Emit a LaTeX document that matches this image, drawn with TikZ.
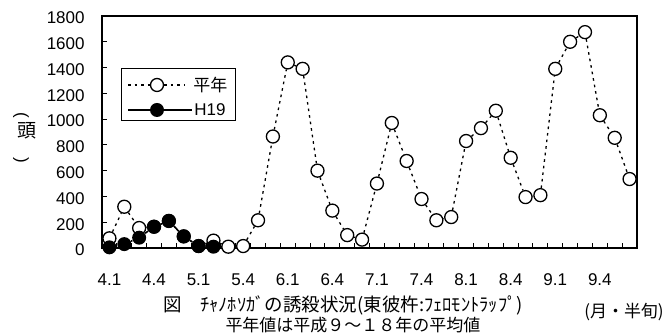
\documentclass[tikz,border=0pt]{standalone}
\usepackage{fontspec}
\setmainfont{Liberation Sans}
\newfontfamily\jafont{Noto Sans CJK JP}
\usetikzlibrary{positioning}

\tikzset{
  frameline/.style={line width=0.8pt},
  avgline/.style={line width=0.65pt, dash pattern=on 1.3pt off 2pt},
  hline/.style={line width=0.8pt},
  avgmark/.style={circle, draw, line width=0.65pt, fill=white, minimum size=6.5pt, inner sep=0pt},
  hmark/.style={circle, fill=black, minimum size=7pt, inner sep=0pt},
  ticklabel/.style={font=\fontsize{8.5}{10}\selectfont, inner sep=0pt},
  jalabel/.style={font=\jafont\fontsize{8.5}{10}\selectfont, inner sep=0pt},
}

\begin{document}
\begin{tikzpicture}[x=0.5pt, y=0.5pt]
  \useasboundingbox[fill=white] (0,0) rectangle (671,335);

  \begin{scope}[shift={(102,87)}, x=7.4306pt, y=0.064444pt]
    % ticks and frame
    \foreach \k in {1,...,35}
      \draw[line width=0.5pt] (\k,0) -- ++(0pt,2.5pt);
    \foreach \v in {200,400,...,1600}
      \draw[line width=0.5pt] (0,\v) -- ++(2.5pt,0pt);
    \draw[frameline] (0,0) rectangle (36,1800);

    \foreach \v in {0,200,...,1800}
      \node[ticklabel, anchor=east] (y\v) at ([xshift=-8.5pt, yshift=-1pt]0,\v) {\v};
    \foreach \t [count=\n from 0] in {4.1,4.4,5.1,5.4,6.1,6.4,7.1,7.4,8.1,8.4,9.1,9.4}
      \node[ticklabel] (x\n) at ([yshift=-15.75pt]3*\n+0.5,0) {\t};

    % heinen
    \foreach \v [count=\i from 0] in {75,320,155,165,210,90,15,57,10,15,215,865,1440,1390,600,290,100,65,500,970,675,380,215,240,830,930,1065,700,395,410,1390,1600,1675,1030,855,535}
      \node[avgmark] (a\i) at (\i+0.5,\v) {};
    \foreach \i [evaluate=\i as \j using int(\i+1)] in {0,...,34}
      \draw[avgline] (a\i) -- (a\j);

    % H19
    \foreach \v [count=\i from 0] in {5,30,80,165,210,90,15,10}
      \node[hmark] (h\i) at (\i+0.5,\v) {};
    \foreach \i [evaluate=\i as \j using int(\i+1)] in {0,...,6}
      \draw[hline] (h\i) -- (h\j);
  \end{scope}

  % legend
  \draw[line width=0.5pt] (121,214) rectangle (235,266);
  \coordinate (la1) at (128,250);
  \coordinate (la2) at (185,250);
  \node[avgmark] (legavg) at (157,250) {};
  \draw[avgline] (la1) -- (legavg) -- (la2);
  \node[jalabel, anchor=west, right=4pt of la2] (legavgtxt) {平年};
  \coordinate (lh1) at (128,225);
  \coordinate (lh2) at (192,225);
  \node[hmark] (legh) at (157,225) {};
  \draw[hline] (lh1) -- (legh) -- (lh2);
  \node[ticklabel, anchor=west, right=1pt of lh2] (leghtxt) {H19};

  % texts
  \node[jalabel, font=\jafont\fontsize{9.5}{10}\selectfont] (ylab) at (27,204) {頭};
  \node[ticklabel, rotate=-90, font=\fontsize{8.5}{10}\selectfont] (ylabtop) at (21,220) {(};
  \node[ticklabel, rotate=-90, font=\fontsize{8.5}{10}\selectfont] (ylabbot) at (21,175) {)};
  \node[jalabel, font=\jafont\fontsize{9.25}{10}\selectfont] (cap1) at (343,30) {図　ﾁｬﾉﾎｿｶﾞの誘殺状況(東彼杵:ﾌｪﾛﾓﾝﾄﾗｯﾌﾟ)};
  \node[jalabel] (cap2) at (353,10) {平年値は平成９～１８年の平均値};
  \node[jalabel] (unit) at (624,23) {(月・半旬)};
\end{tikzpicture}
\end{document}
